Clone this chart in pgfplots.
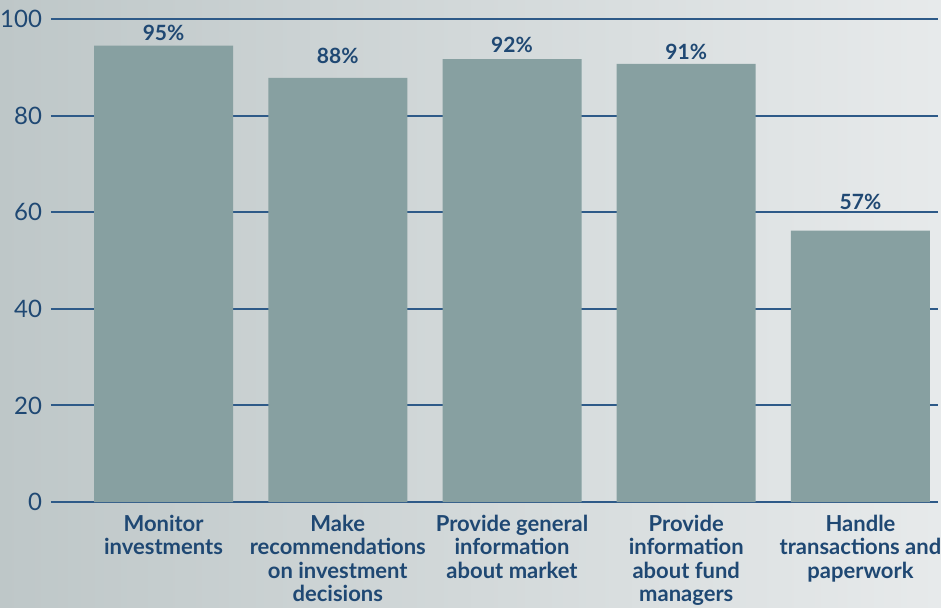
\documentclass[border=0pt]{standalone}
\usepackage{pgfplots}
\pgfplotsset{compat=1.18}
\usepackage{fontspec}
\setmainfont{Lato}
\definecolor{txtblue}{HTML}{1F4873}
\definecolor{gridblue}{HTML}{2E5A88}
\definecolor{barcol}{HTML}{87A0A1}
\definecolor{bgleft}{HTML}{BEC7C8}
\definecolor{bgright}{HTML}{E7EAEB}
\begin{document}
\begin{tikzpicture}
\shade[left color=bgleft, right color=bgright] (-25.5pt,-52.5pt) rectangle (445pt,251pt);
\begin{axis}[
  scale only axis,
  width=443.5pt, height=241.5pt,
  xmin=-0.646, xmax=4.445,
  ymin=0, ymax=100,
  ytick={0,20,40,60,80,100},
  xtick={0,1,2,3,4},
  xticklabels={{Monitor\\investments},{Make\\recommendations\\on investment\\decisions},{Provide general\\information\\about market},{Provide\\information\\about fund\\managers},{Handle\\transactions and\\paperwork}},
  axis line style={draw=none},
  major tick length=0pt,
  ymajorgrids,
  grid style={color=gridblue, line width=1pt},
  /pgf/number format/assume math mode=true,
  yticklabel style={font=\fontsize{12}{13}\selectfont, text=txtblue, xshift=-1pt},
  xticklabel style={font=\fontsize{11}{11.7}\selectfont\bfseries, text=txtblue, align=center, anchor=north, yshift=-3pt},
  clip=false,
]
\addplot[ybar, bar width=69.5pt, fill=barcol, draw=none] coordinates {(0,94.5) (1,87.8) (2,91.7) (3,90.7) (4,56.2)};
\addplot[draw=none, mark=none, nodes near coords, point meta=explicit symbolic,
  nodes near coords style={anchor=center, font=\fontsize{10.5}{12}\selectfont\bfseries, text=txtblue}]
  coordinates {(0,97.1) [95\%] (1,92.3) [88\%] (2,94.6) [92\%] (3,93.2) [91\%] (4,62.1) [57\%]};
\end{axis}
\pgfresetboundingbox
\path[use as bounding box] (-25.5pt,-52.5pt) rectangle (445pt,251pt);
\end{tikzpicture}
\end{document}
